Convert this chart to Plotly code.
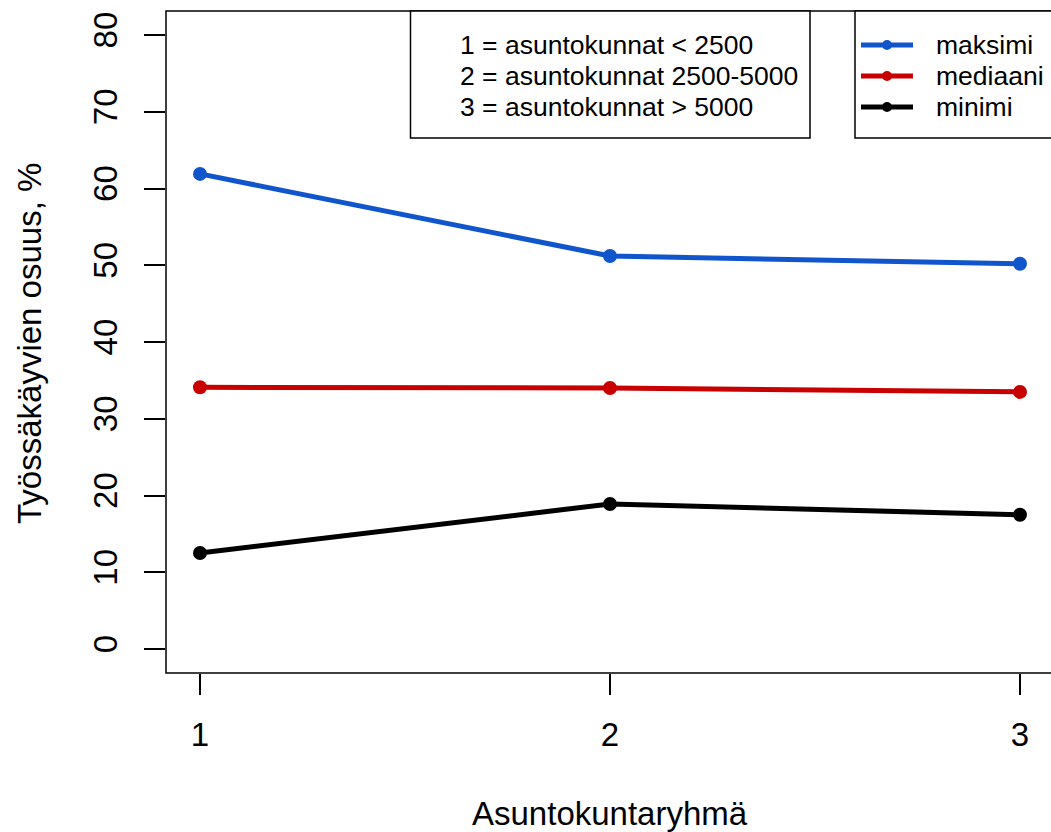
import plotly.graph_objects as go

# ---- data ----
groups = [1, 2, 3]
maksimi = [61.9, 51.2, 50.2]
mediaani = [34.1, 34.0, 33.5]
minimi = [12.5, 18.9, 17.5]
series_names = ["maksimi", "mediaani", "minimi"]
series_colors = ["#1155cc", "#c80000", "#000000"]
group_labels = ["1 = asuntokunnat < 2500",
                "2 = asuntokunnat 2500-5000",
                "3 = asuntokunnat > 5000"]
y_ticks = [0, 10, 20, 30, 40, 50, 60, 70, 80]

W, H = 1051, 832
L, R, T, B = 166, 1051, 11, 673
FONT = "Liberation Sans, Arial, sans-serif"


def px(x):
    return (x - L) / (R - L)


def py(y):
    return (B - y) / (B - T)


fig = go.Figure()
for name, vals, col in zip(series_names, [maksimi, mediaani, minimi], series_colors):
    fig.add_trace(go.Scatter(
        x=groups, y=vals, mode="lines+markers", name=name,
        line=dict(color=col, width=5),
        marker=dict(color=col, size=14),
        showlegend=False, cliponaxis=False))

shapes = []
# plot box (right edge off-canvas)
shapes.append(dict(type="rect", xref="paper", yref="paper",
                   x0=0, x1=px(1056), y0=0, y1=1,
                   line=dict(color="black", width=1.5)))
# legend boxes
shapes.append(dict(type="rect", xref="paper", yref="paper",
                   x0=px(410.5), x1=px(810), y0=py(138), y1=1,
                   line=dict(color="black", width=1.5), fillcolor="white", layer="above"))
shapes.append(dict(type="rect", xref="paper", yref="paper",
                   x0=px(855), x1=px(1060), y0=py(138), y1=1,
                   line=dict(color="black", width=1.5), fillcolor="white", layer="above"))

annotations = []
rows = [45, 76, 107]
for lab, ry in zip(group_labels, rows):
    annotations.append(dict(xref="paper", yref="paper", x=px(458), y=py(ry),
                            text=lab, showarrow=False, xanchor="left", yanchor="middle",
                            font=dict(family=FONT, size=26.5, color="black")))
for name, col, ry in zip(series_names, series_colors, rows):
    shapes.append(dict(type="line", xref="paper", yref="paper",
                       x0=px(861), x1=px(913), y0=py(ry), y1=py(ry),
                       line=dict(color=col, width=5), layer="above"))
    shapes.append(dict(type="circle", xref="paper", yref="paper",
                       x0=px(882), x1=px(892), y0=py(ry + 5), y1=py(ry - 5),
                       line=dict(color=col, width=0), fillcolor=col, layer="above"))
    annotations.append(dict(xref="paper", yref="paper", x=px(934), y=py(ry),
                            text=name, showarrow=False, xanchor="left", yanchor="middle",
                            font=dict(family=FONT, size=26.5, color="black")))

# axis titles
annotations.append(dict(xref="paper", yref="paper", x=px(610), y=py(813),
                        text="Asuntokuntaryhmä", showarrow=False,
                        xanchor="center", yanchor="middle",
                        font=dict(family=FONT, size=33, color="black")))
annotations.append(dict(xref="paper", yref="paper", x=px(29), y=py(344),
                        text="Työssäkäyvien osuus, %", showarrow=False, textangle=-90,
                        xanchor="center", yanchor="middle",
                        font=dict(family=FONT, size=33, color="black")))

ypx = 7.675
fig.update_layout(
    width=W, height=H,
    margin=dict(l=L, r=W - R, t=T, b=H - B, pad=0),
    paper_bgcolor="white", plot_bgcolor="white",
    font=dict(family=FONT, size=33, color="black"),
    shapes=shapes, annotations=annotations,
    xaxis=dict(range=[1 - 34 / 410, 3 + 31 / 410], tickvals=groups,
               ticktext=[str(g) for g in groups],
               showgrid=False, zeroline=False, showline=False,
               ticks="outside", ticklen=21, tickwidth=1.5, tickcolor="black",
               tickfont=dict(family=FONT, size=33), ticklabelstandoff=11),
    yaxis=dict(range=[-24 / ypx, 80 + 24 / ypx], tickvals=y_ticks,
               ticktext=[str(v) for v in y_ticks],
               showgrid=False, zeroline=False, showline=False,
               ticks="outside", ticklen=21, tickwidth=1.5, tickcolor="black",
               tickangle=-90, tickfont=dict(family=FONT, size=33), ticklabelstandoff=14),
)

fig.write_html("out.html")
